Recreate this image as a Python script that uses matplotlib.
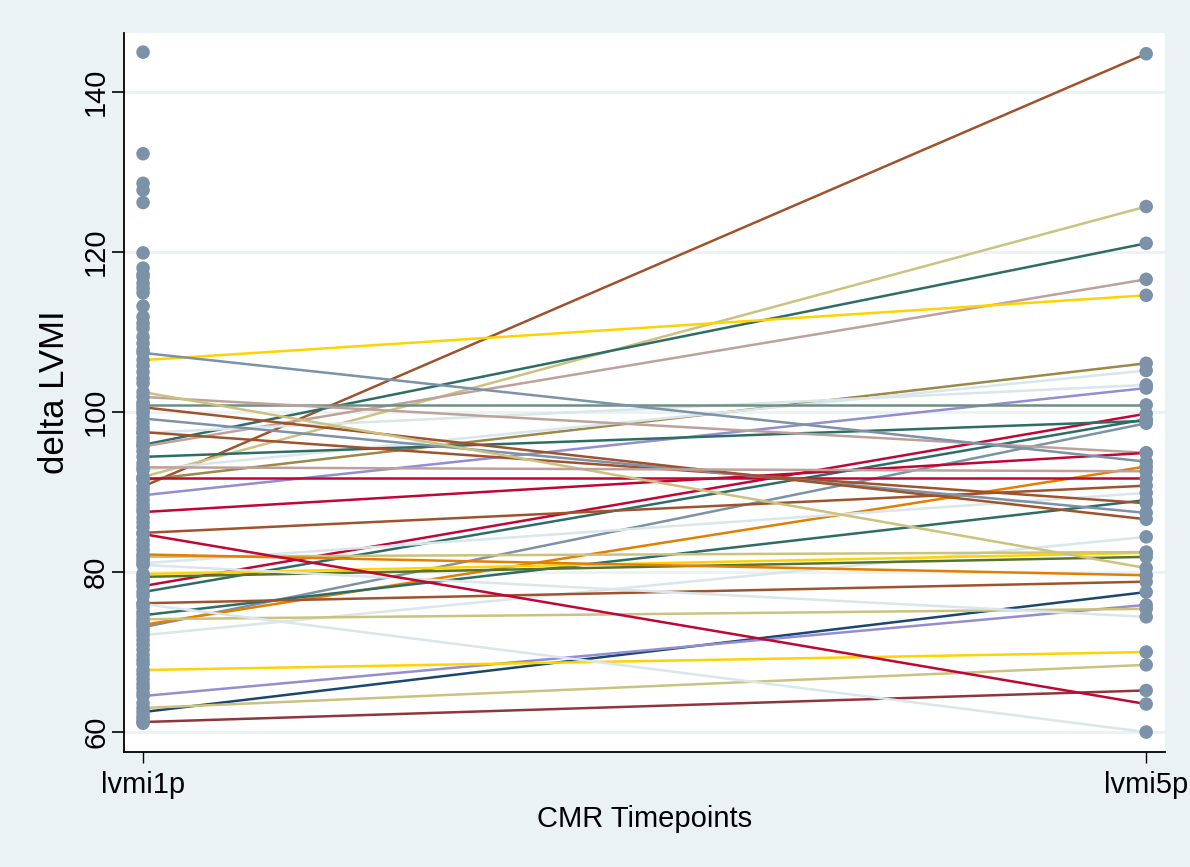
import matplotlib.pyplot as plt
import numpy as np

timepoints = ["lvmi1p", "lvmi5p"]

# subjects with both CMR scans: baseline and 5-year LVMI
lvmi1p_paired = [90.7, 91.9, 95.9, 95.7, 106.5, 91.5, 92.75, 89.6, 97.4, 100.9,
                 78.25, 94.4, 77.5, 73.1, 101.9, 87.5, 107.4, 73.4, 91.7, 84.9,
                 81.1, 74.6, 97.5, 99.2, 100.6, 72.1, 79.75, 81.9, 79.4, 102.5,
                 82.2, 76.1, 62.5, 64.5, 74.1, 80.9, 67.75, 63.0, 61.25, 84.75,
                 76.0, 93.1]
lvmi5p_paired = [144.8, 125.7, 121.1, 116.6, 114.6, 106.1, 105.2, 103.0, 103.4, 100.9,
                 99.8, 98.9, 99.1, 98.6, 94.9, 94.9, 93.8, 93.2, 91.7, 90.8,
                 89.9, 89.0, 88.6, 87.4, 86.6, 84.4, 82.4, 82.5, 81.9, 80.5,
                 79.6, 78.8, 77.5, 75.9, 75.4, 74.4, 70.0, 68.4, 65.2, 63.5,
                 60.0, 92.6]

# subjects with baseline scan only
lvmi1p_only = [145.0, 132.3, 128.6, 127.75, 126.2, 119.9, 118.0, 117.2, 116.9, 116.1,
               115.5, 114.9, 113.25, 111.9, 111.1, 110.5, 109.4, 108.6, 107.75, 105.8,
               105.0, 104.2, 103.6, 101.2, 100.2, 99.8, 98.6, 98.0, 96.8, 96.3,
               95.1, 93.6, 90.2, 89.0, 88.4, 87.9, 86.8, 86.2, 85.6, 84.0,
               83.4, 82.8, 81.5, 79.0, 78.8, 77.0, 75.6, 75.0, 73.7, 72.6,
               71.5, 70.9, 70.3, 69.6, 69.0, 68.5, 67.2, 66.6, 66.0, 65.5,
               64.9, 63.6, 62.0, 61.6, 61.1]

# Stata s2color palette
stata = {
    "navy": "#1a476f", "maroon": "#90353b", "forest": "#55752f",
    "dkorange": "#e37e00", "teal": "#6e8e84", "cranberry": "#c10534",
    "lavender": "#938dd2", "khaki": "#cac27e", "sienna": "#a0522d",
    "emidblue": "#7b92a8", "emerald": "#2d6d66", "brown": "#9c8847",
    "erose": "#bfa19c", "gold": "#ffd200", "bluishgray": "#d9e6eb",
}
line_colors = ["sienna", "khaki", "emerald", "erose", "gold", "brown", "bluishgray",
               "lavender", "bluishgray", "teal", "cranberry", "emerald", "emerald",
               "emidblue", "erose", "cranberry", "emidblue", "dkorange", "cranberry",
               "sienna", "bluishgray", "emerald", "sienna", "emidblue", "sienna",
               "bluishgray", "gold", "khaki", "forest", "khaki", "dkorange", "sienna",
               "navy", "lavender", "khaki", "bluishgray", "gold", "khaki", "maroon",
               "cranberry", "bluishgray", "erose"]

bg = "#eaf2f3"
plt.rcParams["font.family"] = ["Liberation Sans", "DejaVu Sans"]

fig = plt.figure(figsize=(11.9, 8.67), dpi=100, facecolor=bg)
ax = fig.add_axes([0.1042, 0.1326, 0.875, 0.8294])

x = np.arange(1, len(timepoints) + 1)
for a, b, c in zip(lvmi1p_paired, lvmi5p_paired, line_colors):
    ax.plot(x, [a, b], color=stata[c], lw=1.8, zorder=2, solid_capstyle="butt")

left = lvmi1p_paired + lvmi1p_only
ax.scatter(np.full(len(left), x[0]), left, s=95, color=stata["emidblue"],
           edgecolors="none", zorder=3)
ax.scatter(np.full(len(lvmi5p_paired), x[1]), lvmi5p_paired, s=95,
           color=stata["emidblue"], edgecolors="none", zorder=3)

ax.set_xlim(0.981, 2.019)
ax.set_ylim(57.5, 147.4)
ax.set_xticks(x)
ax.set_xticklabels(timepoints)
ax.set_yticks(np.arange(60, 141, 20))
ax.grid(axis="y", color=bg, lw=2)
ax.set_axisbelow(True)

for s in ["top", "right"]:
    ax.spines[s].set_visible(False)
for s in ["left", "bottom"]:
    ax.spines[s].set_linewidth(1.3)

ax.tick_params(axis="y", length=9, width=1.2, pad=1, labelsize=21, labelrotation=90)
ax.tick_params(axis="x", length=8, width=1.0, pad=6, labelsize=21)
for t in ax.get_yticklabels():
    t.set_va("center")
ax.set_xlabel("CMR Timepoints", fontsize=21, labelpad=4)
ax.set_ylabel("delta LVMI", fontsize=25, labelpad=8)

fig.savefig("out.png", dpi=100, facecolor=bg)
